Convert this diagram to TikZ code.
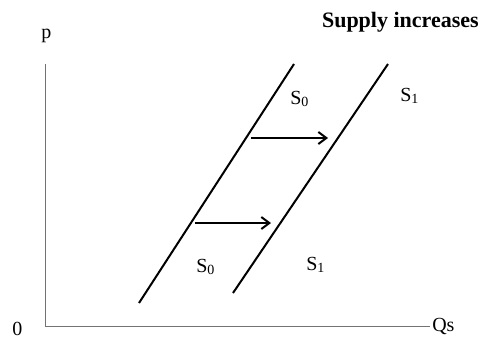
\documentclass[tikz,border=0pt]{standalone}
\usepackage{fontspec}
\setmainfont{Liberation Serif}
\usetikzlibrary{arrows.meta}
\begin{document}
\begin{tikzpicture}[x=0.75pt,y=-0.75pt,
  axisline/.style={draw=black!55, line width=0.6pt},
  supplyline/.style={draw=black, line width=1.5pt},
  shiftarrow/.style={draw=black, line width=1.5pt, -{Straight Barb[length=6pt,width=9pt]}},
  lbl/.style={inner sep=0pt, anchor=base west, font=\fontsize{15}{18}\selectfont},
  titlelbl/.style={inner sep=0pt, anchor=base east, font=\fontsize{16.5}{19}\selectfont\bfseries}]
\useasboundingbox (0,0) rectangle (485,339);
% axes
\coordinate (origin) at (45,326);
\coordinate (ytop) at (45,64);
\coordinate (xend) at (430,326);
\draw[axisline] (ytop) -- (origin) -- (xend);
% supply curves
\coordinate (s0a) at (139,303);
\coordinate (s0b) at (294,64);
\coordinate (s1a) at (233,293);
\coordinate (s1b) at (388,64);
\draw[supplyline] (s0a) -- (s0b);
\draw[supplyline] (s1a) -- (s1b);
% shift arrows
\coordinate (a1s) at (251,138);
\coordinate (a1e) at (328,138);
\coordinate (a2s) at (195,223);
\coordinate (a2e) at (271,223);
\draw[shiftarrow] (a1s) -- (a1e);
\draw[shiftarrow] (a2s) -- (a2e);
% labels
\node[lbl] (plbl) at (41,38) {p};
\node[lbl] (zlbl) at (12,335) {0};
\node[lbl] (qlbl) at (432,331) {Qs};
\node[titlelbl] (title) at (479,27) {Supply increases};
\node[lbl] (s0up) at (290,104) {S\textsubscript{0}};
\node[lbl] (s1up) at (400,101) {S\textsubscript{1}};
\node[lbl] (s0lo) at (196,272) {S\textsubscript{0}};
\node[lbl] (s1lo) at (306,270) {S\textsubscript{1}};
\end{tikzpicture}
\end{document}
